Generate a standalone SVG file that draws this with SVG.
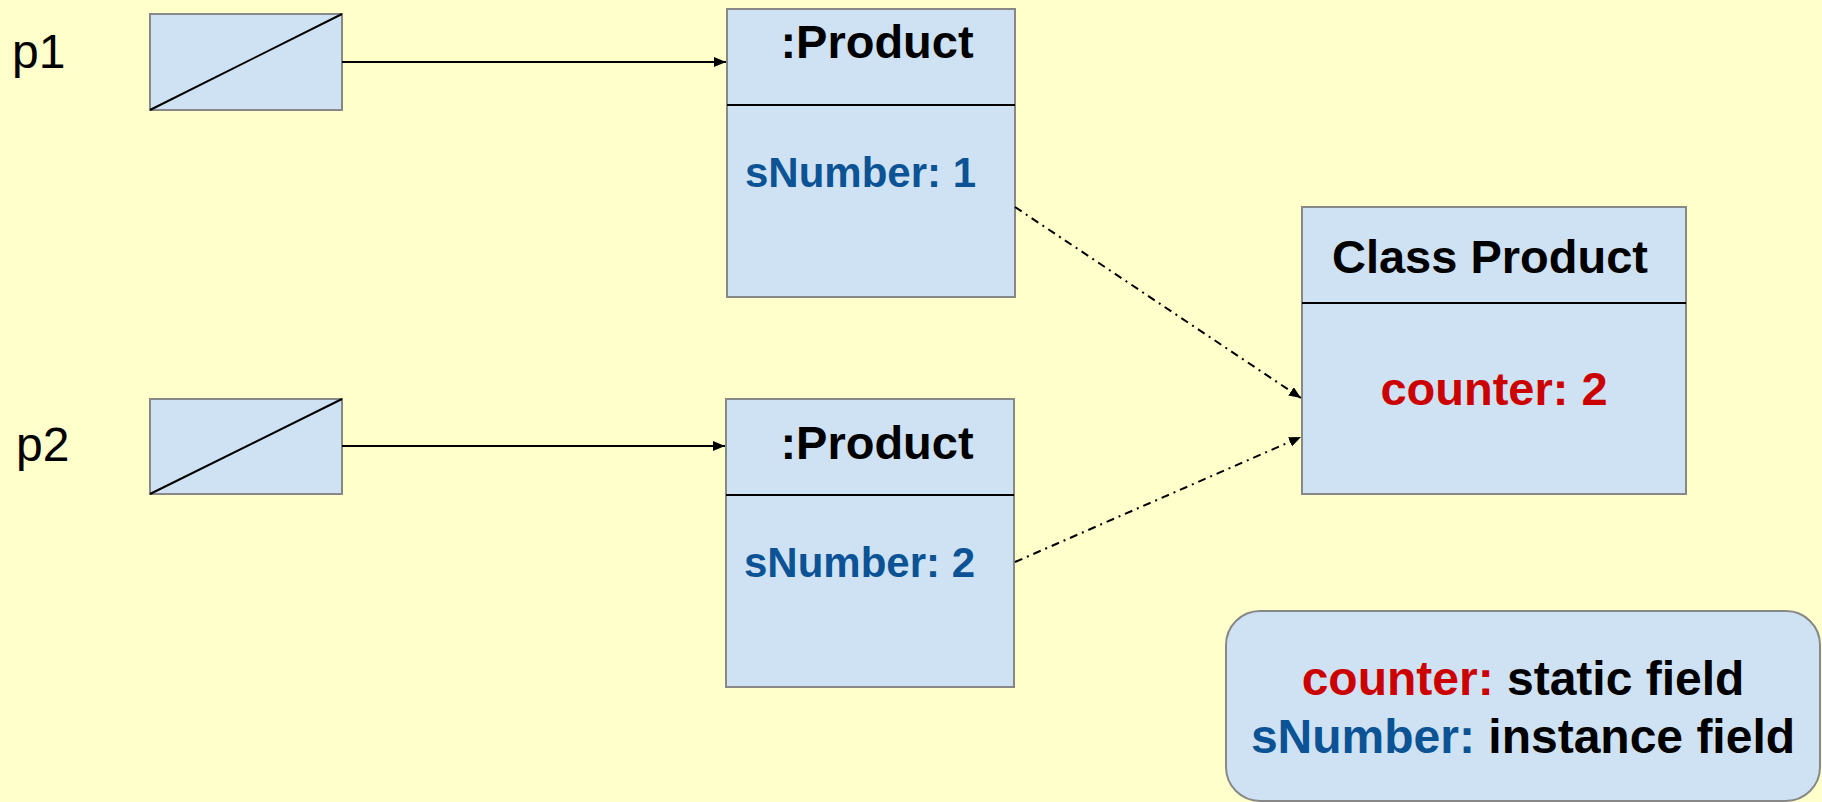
<svg xmlns="http://www.w3.org/2000/svg" width="1822" height="802" viewBox="0 0 1822 802">
<defs>
<style>
.box{fill:#cfe2f3;stroke:#888888;stroke-width:2}
.div{stroke:#000;stroke-width:2}
.t{font-family:"Liberation Sans",Arial,sans-serif;font-weight:bold;font-size:47px;fill:#000}
.lbl{font-family:"Liberation Sans",Arial,sans-serif;font-size:48px;fill:#000}
.blue{fill:#0b5394}
.red{fill:#cc0000}
.solid{stroke:#000;stroke-width:2;fill:none}
.dash{stroke:#000;stroke-width:2;fill:none;stroke-dasharray:8 5 2 5}
</style>
<marker id="ah" viewBox="0 0 12 10" refX="12" refY="5" markerWidth="12" markerHeight="10" markerUnits="userSpaceOnUse" orient="auto">
<path d="M0,0 L12,5 L0,10 Z" fill="#000"/>
</marker>
</defs>
<rect width="1822" height="802" fill="#ffffcc"/>

<g id="ref-p1">
<text class="lbl" x="12" y="68">p1</text>
<rect class="box" x="150" y="14" width="192" height="96"/>
<line x1="150" y1="110" x2="342" y2="14" stroke="#000" stroke-width="2"/>
</g>

<g id="ref-p2">
<text class="lbl" x="16" y="461">p2</text>
<rect class="box" x="150" y="399" width="192" height="95"/>
<line x1="150" y1="494" x2="342" y2="399" stroke="#000" stroke-width="2"/>
</g>

<g id="product1">
<rect class="box" x="727" y="9" width="288" height="288"/>
<line class="div" x1="727" y1="105" x2="1015" y2="105"/>
<text class="t" x="877" y="58" text-anchor="middle">:Product</text>
<text class="t blue" x="745" y="187" style="font-size:42px">sNumber: 1</text>
</g>

<g id="product2">
<rect class="box" x="726" y="399" width="288" height="288"/>
<line class="div" x1="726" y1="495" x2="1014" y2="495"/>
<text class="t" x="877" y="459" text-anchor="middle">:Product</text>
<text class="t blue" x="744" y="577" style="font-size:42px">sNumber: 2</text>
</g>

<g id="class-product">
<rect class="box" x="1302" y="207" width="384" height="287"/>
<line class="div" x1="1302" y1="303" x2="1686" y2="303"/>
<text class="t" x="1490" y="273" text-anchor="middle">Class Product</text>
<text class="t red" x="1494" y="405" text-anchor="middle">counter: 2</text>
</g>

<g id="legend">
<rect class="box" x="1226" y="611" width="594" height="190" rx="34" ry="34"/>
<text class="t" x="1523" y="695" text-anchor="middle" style="font-size:48px"><tspan class="red">counter:</tspan> static field</text>
<text class="t" x="1523" y="753" text-anchor="middle" style="font-size:48px"><tspan class="blue">sNumber:</tspan> instance field</text>
</g>

<g id="connectors">
<line class="solid" x1="342" y1="62" x2="726" y2="62" marker-end="url(#ah)"/>
<line class="solid" x1="342" y1="446" x2="725" y2="446" marker-end="url(#ah)"/>
<line class="dash" x1="1015" y1="207" x2="1301" y2="398" marker-end="url(#ah)"/>
<line class="dash" x1="1015" y1="562" x2="1301" y2="437" marker-end="url(#ah)"/>
</g>
</svg>
